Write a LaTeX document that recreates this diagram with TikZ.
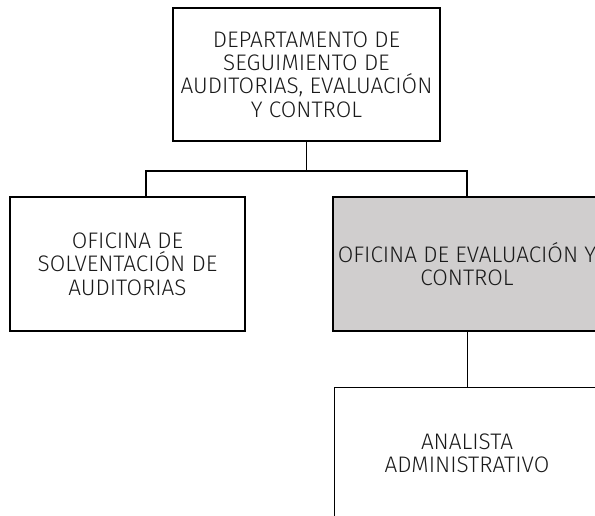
\documentclass[tikz,border=0pt]{standalone}
\usepackage{fontspec}
\setmainfont{Fira Sans Light}
\usepackage{tikz}
\usetikzlibrary{calc}
\definecolor{boxgray}{RGB}{208, 206, 206}
\definecolor{textdark}{RGB}{26, 26, 26}

\begin{document}
\begin{tikzpicture}[x=1pt,y=-1pt,
  unitbox/.style={draw=black, line width=1.6pt, align=center, inner sep=0pt,
    text=textdark, font=\fontsize{22.5}{23.3}\selectfont},
  thinbox/.style={unitbox, line width=0.8pt}]
\useasboundingbox (0,0) rectangle (595,516);
\clip (0,0) rectangle (595,516);

% Department
\node[unitbox, minimum width=267pt, minimum height=133pt] (dep) at (306.5,74.5)
  {DEPARTAMENTO DE\\SEGUIMIENTO DE\\AUDITORIAS, EVALUACIÓN\\Y CONTROL};

% Offices
\node[unitbox, minimum width=235pt, minimum height=134pt] (solv) at (127.5,264)
  {OFICINA DE\\SOLVENTACIÓN DE\\AUDITORIAS};
\node[unitbox, fill=boxgray, minimum width=268pt, minimum height=134pt] (eval) at (467,264)
  {OFICINA DE EVALUACIÓN Y\\CONTROL};

% Analyst
\node[thinbox, minimum width=266pt, minimum height=132pt] (anal) at (467,453)
  {ANALISTA\\ADMINISTRATIVO};

% Connectors
\coordinate (solvin) at ($(solv.north)+(18.5,0)$);
\draw[line width=1.6pt] (dep.south) -- ++(0,29) -| (solvin);
\draw[line width=1.6pt] (dep.south) -- ++(0,29) -| (eval.north);
\draw[line width=0.8pt] (eval.south) -- (anal.north);
\end{tikzpicture}
\end{document}
